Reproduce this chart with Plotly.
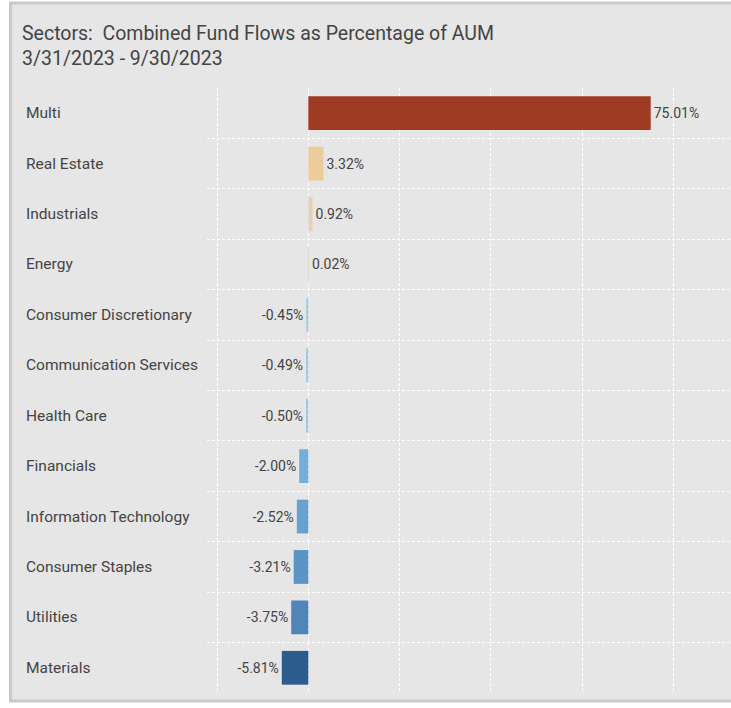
import plotly.graph_objects as go

sectors = ["Multi", "Real Estate", "Industrials", "Energy", "Consumer Discretionary",
           "Communication Services", "Health Care", "Financials", "Information Technology",
           "Consumer Staples", "Utilities", "Materials"]
flows = [75.01, 3.32, 0.92, 0.02, -0.45, -0.49, -0.50, -2.00, -2.52, -3.21, -3.75, -5.81]
colors = ["#9e3b22", "#eccb9c", "#e2d3bb", "#e3dccd", "#9ecae1", "#9ecae1", "#9ecae1",
          "#75addb", "#66a1cf", "#5b93c5", "#4f85b8", "#2b5c8d"]

# plot area in pixels (used to place things outside the axes)
W, H = 731, 708
L, R, T, B = 207, 0, 88, 15
pw, ph = W - L - R, H - T - B

def px_x(px):
    return (px - L) / pw

def px_y(py):
    return (H - B - py) / ph

pos = list(range(len(sectors)))

fig = go.Figure()
fig.add_trace(go.Bar(
    x=flows, y=pos,
    orientation="h",
    marker=dict(color=colors, line=dict(width=0)),
    text=["%.2f%%" % v for v in flows],
    textposition="outside",
    textfont=dict(size=14, color="#444444"),
    cliponaxis=False,
    width=0.67,
    hoverinfo="skip",
))

# sector labels, left aligned like the original
for i, s in enumerate(sectors):
    fig.add_annotation(x=px_x(24), xref="paper", y=i, yref="y", text=s,
                       showarrow=False, xanchor="left", yanchor="middle",
                       font=dict(size=15.5, color="#444444"))

# grey framed panel
fig.add_shape(type="rect", xref="paper", yref="paper",
              x0=px_x(10.5), x1=1.3, y0=px_y(701), y1=px_y(3),
              fillcolor="#e6e6e6", line=dict(color="#c9c9c9", width=3), layer="below")

fig.update_layout(
    width=W, height=H,
    margin=dict(l=L, r=R, t=T, b=B),
    paper_bgcolor="white",
    plot_bgcolor="rgba(0,0,0,0)",
    font=dict(family="Roboto", color="#444444"),
    showlegend=False,
    title=dict(text="Sectors:  Combined Fund Flows as Percentage of AUM<br>3/31/2023 - 9/30/2023",
               xref="container", yref="container", x=22 / W, xanchor="left",
               y=1 - 39.5 / H, yanchor="top",
               font=dict(size=19.5, color="#444444")),
    xaxis=dict(range=[-22.2, 92.6], dtick=20, tick0=0, showticklabels=False,
               showgrid=True, gridcolor="white", griddash="3px,2px", gridwidth=1,
               zeroline=False, fixedrange=True),
    yaxis=dict(range=[len(sectors) - 0.5, -0.5], showticklabels=False, showgrid=False,
               zeroline=False, fixedrange=True,
               minor=dict(tickvals=[i + 0.5 for i in pos[:-1]], showgrid=True,
                          gridcolor="white", griddash="3px,2px", gridwidth=1, ticks="")),
)

fig.write_html("out.html", config={"displayModeBar": False},
               post_script="document.body.style.margin='0';")
